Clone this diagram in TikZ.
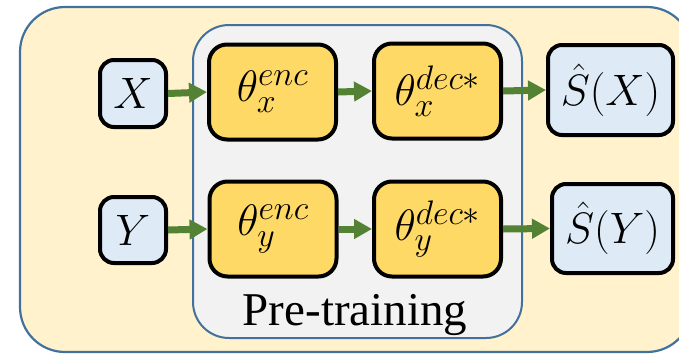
\RequirePackage{fix-cm}
\documentclass[tikz,border=0pt]{standalone}
\usepackage{fontspec}
\setmainfont{Liberation Serif}
\usetikzlibrary{arrows.meta}
\DeclareMathSizes{44}{44}{34}{24}
\definecolor{panelfill}{HTML}{FFF2CC}
\definecolor{panelline}{HTML}{41719C}
\definecolor{groupfill}{HTML}{F2F2F2}
\definecolor{modelfill}{HTML}{FFD966}
\definecolor{datafill}{HTML}{DEEBF7}
\definecolor{arrowgreen}{HTML}{548235}
\tikzset{
  outerpanel/.style={draw=panelline, fill=panelfill, line width=2.2pt, rounded corners=45pt},
  innerpanel/.style={draw=panelline, fill=groupfill, line width=2pt, rounded corners=36pt},
  databox/.style={draw=black, fill=datafill, line width=4pt, rounded corners=14pt,
    inner sep=0pt, font=\fontsize{44}{52}\selectfont},
  modelbox/.style={draw=black, fill=modelfill, line width=4pt, rounded corners=18pt,
    inner sep=0pt, minimum width=127pt, minimum height=95pt, font=\fontsize{44}{52}\selectfont},
  flow/.style={draw=arrowgreen, line width=7pt, -{Triangle[length=18pt,width=19pt]}}
}
\begin{document}
\begin{tikzpicture}[x=1pt,y=-1pt]
\useasboundingbox (0,0) rectangle (679,354);
\clip (0,0) rectangle (679,354);
% background panels
\draw[outerpanel] (20,7) rectangle (692,352);
\draw[innerpanel] (193,25) rectangle (522,338);
% inputs
\node[databox, minimum width=66pt, minimum height=67pt] (xin) at (133,93.5) {$X$};
\node[databox, minimum width=66pt, minimum height=66pt] (yin) at (133,230) {$Y$};
% encoders and decoders
\node[modelbox] (encx) at (272.5,92) {$\theta_x^{enc}$};
\node[modelbox] (ency) at (273,229) {$\theta_y^{enc}$};
\node[modelbox] (decx) at (437.5,91) {$\theta_x^{dec*}$};
\node[modelbox] (decy) at (437.5,229) {$\theta_y^{dec*}$};
% outputs
\node[databox, minimum width=125pt, minimum height=90pt] (sx) at (610.5,90) {$\hat{S}(X)$};
\node[databox, minimum width=121pt, minimum height=89pt] (sy) at (612.5,228.5) {$\hat{S}(Y)$};
% group label
\node[font=\fontsize{47}{56}\selectfont, anchor=base, inner sep=0pt] (ptlabel) at (355,325) {Pre-training};
% connectors
\draw[flow] (xin.east) -- (encx.west);
\draw[flow] (encx.east) -- (decx.west);
\draw[flow] (decx.east) -- (sx.west);
\draw[flow] (yin.east) -- (ency.west);
\draw[flow] (ency.east) -- (decy.west);
\draw[flow] (decy.east) -- (sy.west);
\end{tikzpicture}
\end{document}
